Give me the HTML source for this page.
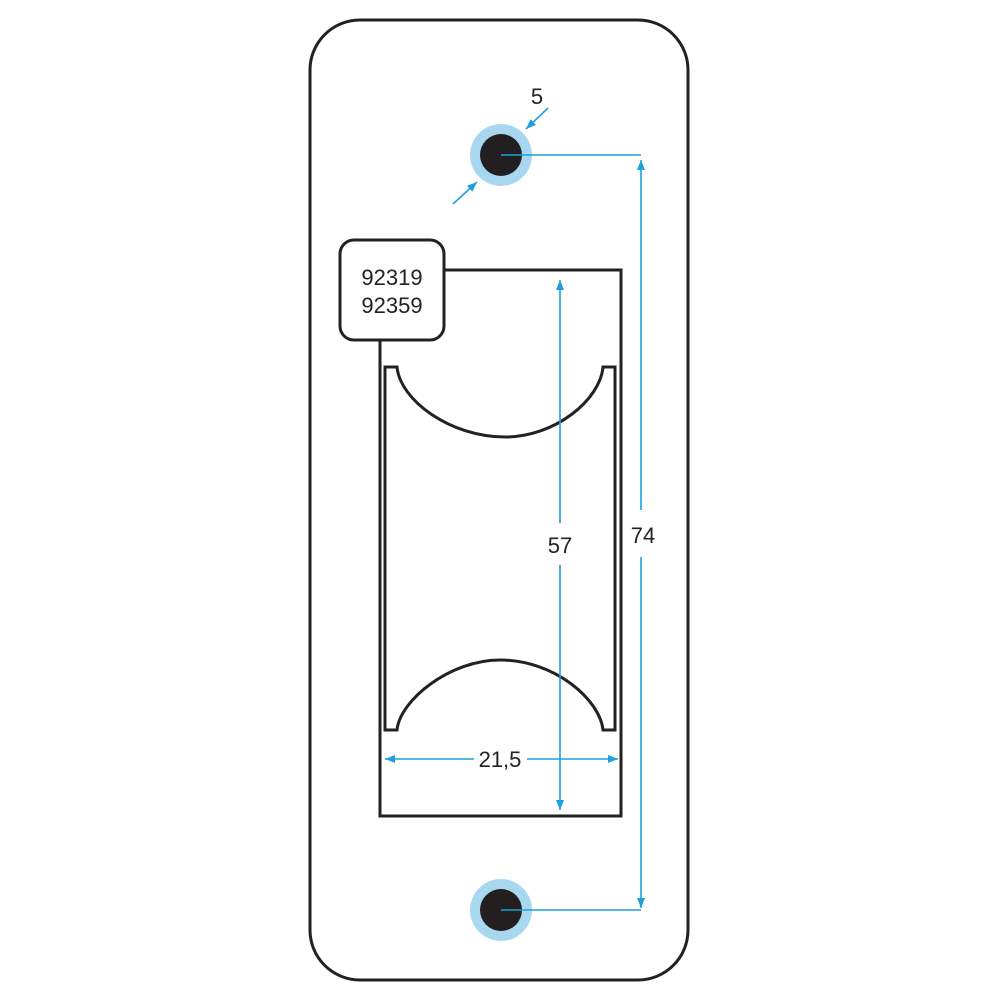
<!DOCTYPE html>
<html><head><style>html,body{margin:0;padding:0;background:#fff}svg{display:block}</style></head>
<body>
<svg width="1000" height="1000" viewBox="0 0 1000 1000" xmlns="http://www.w3.org/2000/svg">
<rect width="1000" height="1000" fill="#fff"/>
<rect x="310" y="20" width="378" height="960" rx="50" fill="none" stroke="#222" stroke-width="3"/>
<g stroke="#222" stroke-width="3" fill="none">
<path d="M444,270 H621 V816 H380 V340"/>
<path d="M385,730 V367 H397 C400,400 450,437 505,437 C555,437 600,400 603,367 H615 V730 H603 C600,700 555,660 500,660 C450,660 400,700 397,730 Z"/>
</g>
<rect x="340" y="240" width="104" height="100" rx="14" fill="#fff" stroke="#222" stroke-width="3"/>
<text x="392" y="285" font-family="Liberation Sans, sans-serif" font-size="22" text-anchor="middle" fill="#222">92319</text>
<text x="392" y="313" font-family="Liberation Sans, sans-serif" font-size="22" text-anchor="middle" fill="#222">92359</text>
<circle cx="501" cy="155" r="31" fill="#a8d8f0"/><circle cx="501" cy="155" r="21" fill="#231f20"/>
<circle cx="501" cy="910" r="31" fill="#a8d8f0"/><circle cx="501" cy="910" r="21" fill="#231f20"/>
<defs><marker id="a" markerWidth="10" markerHeight="8" refX="10" refY="4" orient="auto" markerUnits="userSpaceOnUse"><path d="M0,0 L10,4 L0,8 Z" fill="#1ea0dc"/></marker></defs>
<g stroke="#1ea0dc" stroke-width="1.6" fill="none">
<path d="M501,155 H641"/><path d="M501,910 H641"/>
<path d="M641,510 V160" marker-end="url(#a)"/><path d="M641,557 V908" marker-end="url(#a)"/>
<path d="M560,523 V280" marker-end="url(#a)"/><path d="M560,565 V810" marker-end="url(#a)"/>
<path d="M474,759 H385" marker-end="url(#a)"/><path d="M527,759 H618" marker-end="url(#a)"/>
<path d="M548,108 L526,129" marker-end="url(#a)"/><path d="M453,204 L477,182" marker-end="url(#a)"/>
</g>
<g font-family="Liberation Sans, sans-serif" font-size="22" fill="#222" text-anchor="middle">
<text x="537" y="104">5</text>
<text x="560" y="553">57</text>
<text x="643" y="543">74</text>
<text x="500" y="767">21,5</text>
</g>
</svg>
</body></html>
